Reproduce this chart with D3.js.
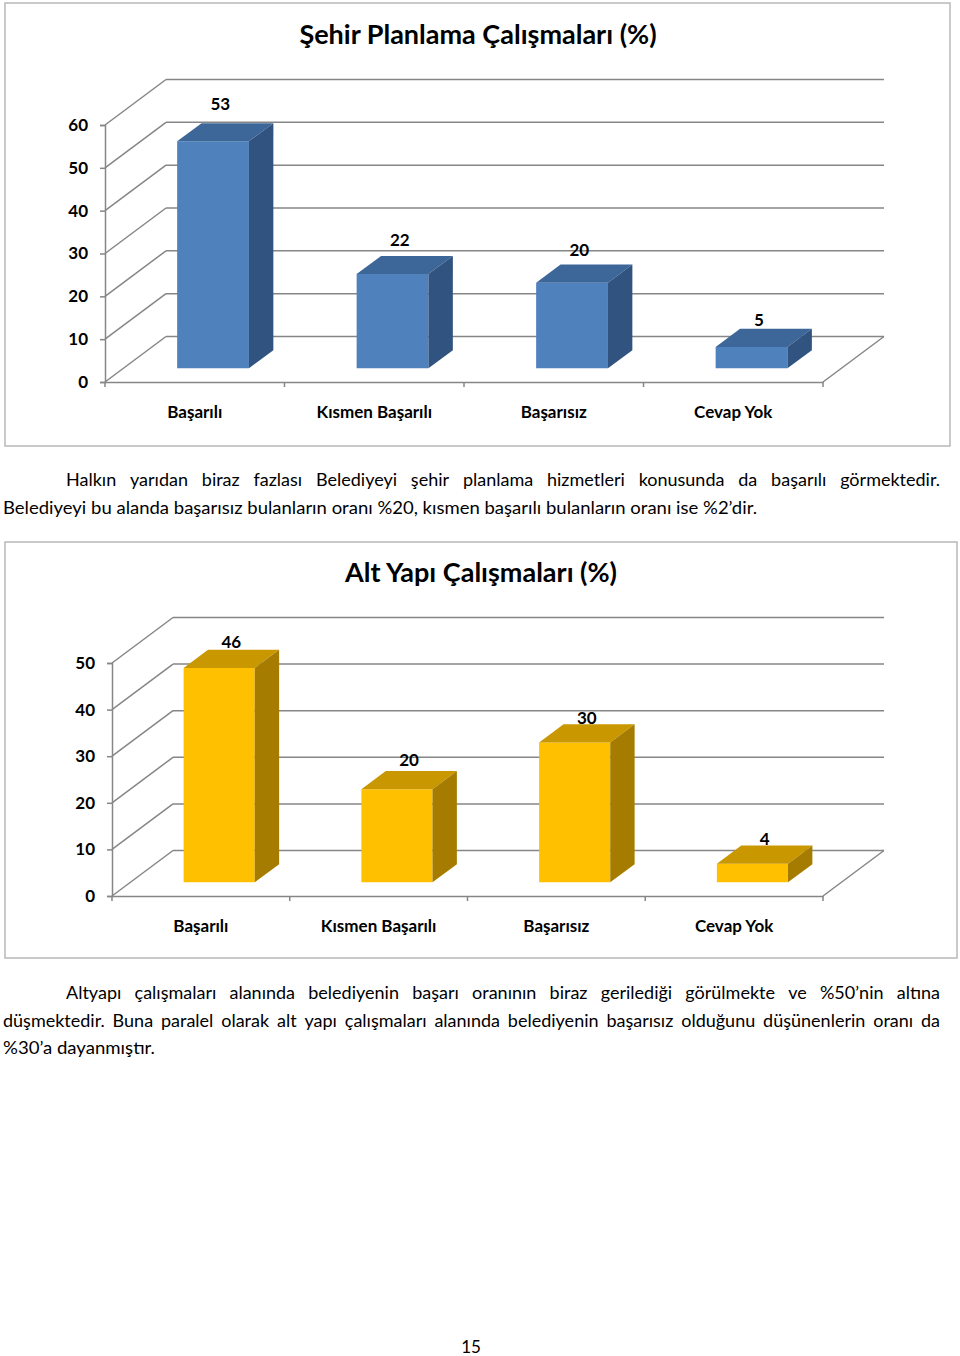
<!DOCTYPE html>
<html>
<head>
<meta charset="utf-8">
<script src="https://cdn.jsdelivr.net/npm/d3@7"></script>
<style>
  body { margin: 0; background: #fff; }
  svg { display: block; }
  text { font-family: Lato, "Open Sans", sans-serif; fill: #000; }
</style>
</head>
<body>
<svg id="page"></svg>
<script>
const categories = ["Başarılı", "Kısmen Başarılı", "Başarısız", "Cevap Yok"];
const sehirValues = [53, 22, 20, 5];
const altyapiValues = [46, 20, 30, 4];
const sehirTicks = [0, 10, 20, 30, 40, 50, 60];
const altyapiTicks = [0, 10, 20, 30, 40, 50];

const svg = d3.select("#page").attr("width", 960).attr("height", 1356);
svg.append("rect").attr("width", 960).attr("height", 1356).attr("fill", "#fff");

// 3d look: how far the back wall sits from the front plane
const DX = 61, DY = 45.5;
const gridColor = "#868686";
const labelSize = 17;

function drawChart(cfg) {
  const g = svg.append("g");

  g.append("rect")
    .attr("x", cfg.frame[0]).attr("y", cfg.frame[1])
    .attr("width", cfg.frame[2]).attr("height", cfg.frame[3])
    .attr("fill", "#fff").attr("stroke", "#b8b8b8").attr("stroke-width", 1.5);

  g.append("text").text(cfg.title)
    .attr("x", cfg.titleX).attr("y", cfg.titleY)
    .attr("text-anchor", "middle").attr("font-weight", "bold")
    .attr("font-size", 27);

  const x = d3.scaleBand().domain(categories)
    .range([cfg.left, cfg.right]).paddingInner(0.6).paddingOuter(0.3);
  const y = d3.scaleLinear().domain([0, d3.max(cfg.ticks)]).range([cfg.bottom, cfg.top]);

  // back wall gridlines + side wall diagonals
  const grid = g.append("g").attr("stroke", gridColor).attr("stroke-width", 1.5).attr("fill", "none");
  cfg.ticks.forEach(t => {
    grid.append("line")
      .attr("x1", cfg.left + DX).attr("x2", cfg.right + DX)
      .attr("y1", y(t) - DY).attr("y2", y(t) - DY);
    grid.append("line")
      .attr("x1", cfg.left).attr("x2", cfg.left + DX)
      .attr("y1", y(t)).attr("y2", y(t) - DY);
  });
  // floor right edge
  grid.append("line")
    .attr("x1", cfg.right).attr("x2", cfg.right + DX)
    .attr("y1", y(0)).attr("y2", y(0) - DY);

  // value axis
  const yAxis = d3.axisLeft(y).tickValues(cfg.ticks).tickSize(5).tickPadding(12);
  const ya = g.append("g").attr("transform", `translate(${cfg.left},0)`).call(yAxis);
  ya.select(".domain").attr("stroke", gridColor).attr("stroke-width", 1.5);
  ya.selectAll(".tick line").attr("stroke", gridColor).attr("stroke-width", 1.5);
  ya.selectAll(".tick text").attr("font-size", labelSize).attr("font-weight", "bold")
    .attr("font-family", "Lato, sans-serif").attr("fill", "#000");

  // category axis
  const xAxis = d3.axisBottom(x).tickSize(0).tickPadding(cfg.labelPad);
  const xa = g.append("g").attr("transform", `translate(0,${y(0)})`).call(xAxis);
  xa.select(".domain").attr("stroke", gridColor).attr("stroke-width", 1.5);
  xa.selectAll(".tick text").attr("font-size", labelSize).attr("font-weight", "bold")
    .attr("font-family", "Lato, sans-serif").attr("fill", "#000");
  const step = x.step();
  const bounds = d3.range(categories.length + 1).map(i => cfg.left + i * step);
  xa.selectAll(".sep").data(bounds).enter().append("line")
    .attr("x1", d => d).attr("x2", d => d).attr("y1", 0).attr("y2", 5)
    .attr("stroke", gridColor).attr("stroke-width", 1.5);

  // bars, depth from 0.3 to 0.7 of the floor
  const d0 = 0.3, d1 = 0.7;
  const bars = g.selectAll(".bar").data(cfg.values.map((v, i) => ({ v, c: categories[i], i })))
    .enter().append("g").attr("class", "bar");
  const pt = (px, py, d) => `${px + d * DX},${py - d * DY}`;
  bars.append("polygon").attr("fill", cfg.colors.front)
    .attr("points", d => {
      const xl = x(d.c), xr = x(d.c) + x.bandwidth();
      return [pt(xl, y(0), d0), pt(xr, y(0), d0), pt(xr, y(d.v), d0), pt(xl, y(d.v), d0)].join(" ");
    });
  bars.append("polygon").attr("fill", cfg.colors.top)
    .attr("points", d => {
      const xl = x(d.c), xr = x(d.c) + x.bandwidth();
      return [pt(xl, y(d.v), d0), pt(xr, y(d.v), d0), pt(xr, y(d.v), d1), pt(xl, y(d.v), d1)].join(" ");
    });
  bars.append("polygon").attr("fill", cfg.colors.side)
    .attr("points", d => {
      const xr = x(d.c) + x.bandwidth();
      return [pt(xr, y(0), d0), pt(xr, y(0), d1), pt(xr, y(d.v), d1), pt(xr, y(d.v), d0)].join(" ");
    });
  bars.append("text").text(d => d.v)
    .attr("x", d => x(d.c) + x.bandwidth() / 2 + cfg.labelDepth * DX)
    .attr("y", d => y(d.v) - DY + cfg.labelDy[d.i])
    .attr("text-anchor", "middle").attr("font-weight", "bold").attr("font-size", labelSize);
}

drawChart({
  title: "Şehir Planlama Çalışmaları (%)",
  frame: [5, 3, 945, 443], titleX: 478, titleY: 44,
  left: 105, right: 823, bottom: 382, top: 125,
  ticks: sehirTicks, values: sehirValues, labelPad: 24, labelDy: [1, 4, 5, 11], labelDepth: 0.42,
  colors: { front: "#4F81BD", top: "#3D6699", side: "#31537F" }
});

drawChart({
  title: "Alt Yapı Çalışmaları (%)",
  frame: [5, 542, 952, 416], titleX: 481, titleY: 582,
  left: 112, right: 823, bottom: 896, top: 663,
  ticks: altyapiTicks, values: altyapiValues, labelPad: 24, labelDy: [12, 9, 13, 13], labelDepth: 0.5,
  colors: { front: "#FFC000", top: "#C99700", side: "#A67C00" }
});

// body text
const fs = 18;
const para = svg.append("g");
function line(str, x0, x1, yy, justify) {
  if (!justify) {
    para.append("text").text(str).attr("x", x0).attr("y", yy)
      .attr("font-size", fs).attr("textLength", x1 - x0).attr("lengthAdjust", "spacingAndGlyphs");
    return;
  }
  const words = str.split(" ");
  const els = words.map(w => para.append("text").text(w).attr("y", yy).attr("font-size", fs));
  const widths = els.map(e => e.node().getComputedTextLength());
  const gap = (x1 - x0 - d3.sum(widths)) / (words.length - 1);
  let cx = x0;
  els.forEach((e, i) => { e.attr("x", cx); cx += widths[i] + gap; });
}

line("Halkın yarıdan biraz fazlası Belediyeyi şehir planlama hizmetleri konusunda da başarılı görmektedir.", 66, 940, 486, true);
line("Belediyeyi bu alanda başarısız bulanların oranı %20, kısmen başarılı bulanların oranı ise %2’dir.", 3, 757, 514, false);

line("Altyapı çalışmaları alanında belediyenin başarı oranının biraz gerilediği görülmekte ve %50’nin altına", 66, 940, 999, true);
line("düşmektedir. Buna paralel olarak alt yapı çalışmaları alanında belediyenin başarısız olduğunu düşünenlerin oranı da", 3, 940, 1027, true);
line("%30’a dayanmıştır.", 3, 155, 1054, false);

svg.append("text").text("15").attr("x", 471).attr("y", 1353)
  .attr("text-anchor", "middle").attr("font-size", 17);
</script>
</body>
</html>
